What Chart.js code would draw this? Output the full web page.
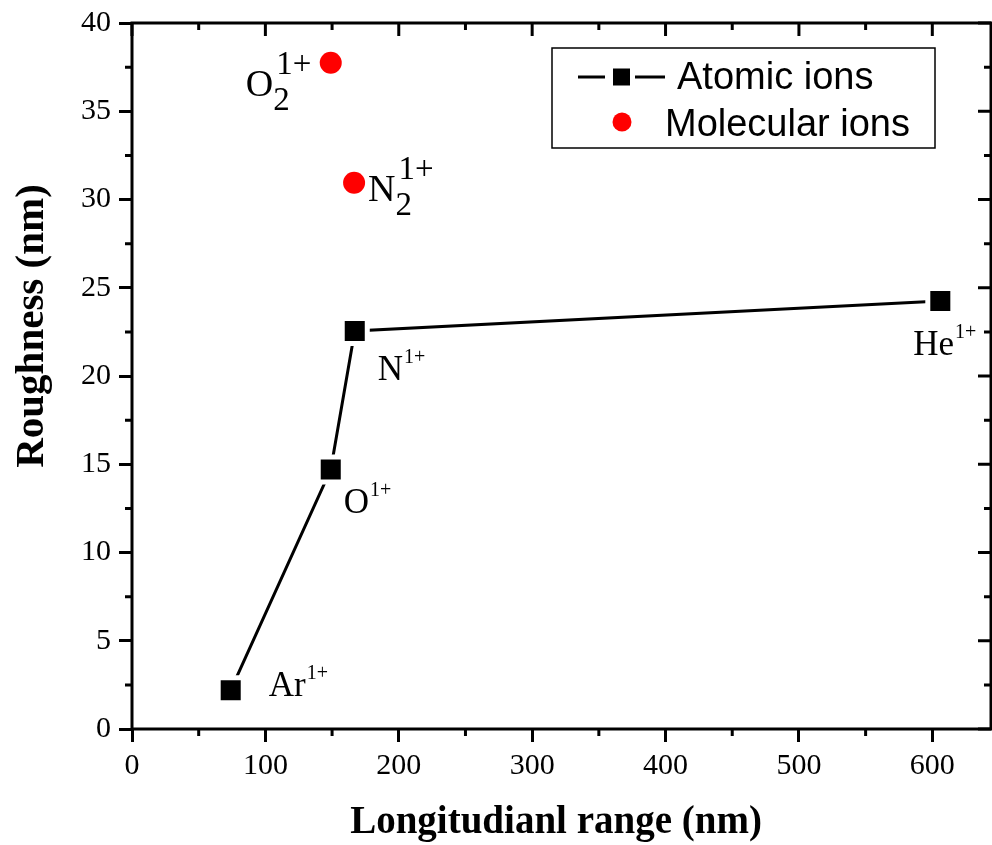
<!DOCTYPE html>
<html lang="en">
<head>
<meta charset="UTF-8" />
<title>Roughness vs longitudinal range</title>
<script src="https://cdn.jsdelivr.net/npm/chart.js"></script>
<style>
  html, body { margin: 0; padding: 0; background: #fff; overflow: hidden; }
  canvas { display: block; }
</style>
</head>
<body>
<canvas id="chart" width="992" height="845"></canvas>
<script>
  // values
  const atomicRange = [74, 149, 167, 606];
  const atomicRough = [2.2, 14.7, 22.55, 24.25];
  const atomicNames = ['Ar', 'O', 'N', 'He'];

  const molecularRange = [149, 166.5];
  const molecularRough = [37.75, 30.95];
  const molecularNames = ['O', 'N'];
  const molecularSub = ['2', '2'];

  const chargeLabel = '1+';
  const xTickValues = [0, 100, 200, 300, 400, 500, 600];
  const yTickValues = [0, 5, 10, 15, 20, 25, 30, 35, 40];

  // label placement (pixel offsets from the marker, baseline of the main text)
  const atomicLabelOffset = [[38, 6], [13, 43], [23, 49], [-27, 54]];
  const molecularLabelOffset = [[-85, 33], [14, 18]];

  const serif = '"Liberation Serif", "Times New Roman", serif';
  const sans = '"Liberation Sans", Arial, sans-serif';
  const noPadding = () => ({ left: 0, right: 0, top: 0, bottom: 0 });

  function drawIon(ctx, x, y, name, sub, sup, big, small, raise, drop) {
    ctx.font = big + 'px ' + serif;
    ctx.textAlign = 'left';
    ctx.textBaseline = 'alphabetic';
    ctx.fillStyle = '#000';
    ctx.fillText(name, x, y);
    const w = ctx.measureText(name).width;
    ctx.font = small + 'px ' + serif;
    if (sub) ctx.fillText(sub, x + w, y + drop);
    ctx.fillText(sup, x + w + (sub ? 3 : 1), y - raise);
  }

  const decorations = {
    id: 'decorations',
    beforeDatasetsDraw(chart) {
      const { ctx, chartArea: a } = chart;
      const xs = chart.scales.x, ys = chart.scales.y;
      ctx.save();
      ctx.strokeStyle = '#000';
      ctx.lineWidth = 3;
      ctx.lineCap = 'butt';
      ctx.strokeRect(a.left, a.top, a.right - a.left, a.bottom - a.top);

      // x ticks: minor outward at bottom, all inward at top
      for (let v = 0; v <= xs.max; v += 50) {
        const px = xs.getPixelForValue(v);
        const major = v % 100 === 0;
        ctx.beginPath();
        if (!major) { ctx.moveTo(px, a.bottom); ctx.lineTo(px, a.bottom + 7); }
        ctx.moveTo(px, a.top); ctx.lineTo(px, a.top + (major ? 13 : 7));
        ctx.stroke();
      }
      // y ticks: minor outward at left, all inward at right
      for (let v = 0; v <= ys.max; v += 2.5) {
        const py = ys.getPixelForValue(v);
        const major = v % 5 === 0;
        ctx.beginPath();
        if (!major) { ctx.moveTo(a.left, py); ctx.lineTo(a.left - 7, py); }
        ctx.moveTo(a.right, py); ctx.lineTo(a.right - (major ? 13 : 7), py);
        ctx.stroke();
      }

      // axis titles
      ctx.fillStyle = '#000';
      ctx.font = 'bold 39px ' + serif;
      ctx.textAlign = 'center';
      ctx.textBaseline = 'alphabetic';
      ctx.fillText('Longitudianl range (nm)', 556, 833);
      ctx.save();
      ctx.translate(43, 326);
      ctx.rotate(-Math.PI / 2);
      ctx.font = 'bold 41px ' + serif;
      ctx.fillText('Roughness (nm)', 0, 0);
      ctx.restore();
      ctx.restore();
    },
    afterDatasetsDraw(chart) {
      const { ctx } = chart;
      const xs = chart.scales.x, ys = chart.scales.y;
      ctx.save();
      atomicNames.forEach((n, i) => {
        const px = xs.getPixelForValue(atomicRange[i]);
        const py = ys.getPixelForValue(atomicRough[i]);
        const o = atomicLabelOffset[i];
        drawIon(ctx, px + o[0], py + o[1], n, '', chargeLabel, 35, 20, 17, 0);
      });
      molecularNames.forEach((n, i) => {
        const px = xs.getPixelForValue(molecularRange[i]);
        const py = ys.getPixelForValue(molecularRough[i]);
        const o = molecularLabelOffset[i];
        drawIon(ctx, px + o[0], py + o[1], n, molecularSub[i], chargeLabel, 38, 33, 22, 14);
      });

      // legend
      const lx = 552, ly = 48, lw = 383, lh = 100;
      ctx.fillStyle = '#fff';
      ctx.fillRect(lx, ly, lw, lh);
      ctx.strokeStyle = '#000';
      ctx.lineWidth = 1.5;
      ctx.strokeRect(lx, ly, lw, lh);
      ctx.lineWidth = 3;
      ctx.beginPath();
      ctx.moveTo(578, 77); ctx.lineTo(605, 77);
      ctx.moveTo(635, 77); ctx.lineTo(665, 77);
      ctx.stroke();
      ctx.fillStyle = '#000';
      ctx.fillRect(613, 68.5, 17, 17);
      ctx.fillStyle = '#ff0000';
      ctx.beginPath();
      ctx.arc(622, 122, 9.5, 0, Math.PI * 2);
      ctx.fill();
      ctx.fillStyle = '#000';
      ctx.font = '38px ' + sans;
      ctx.textAlign = 'left';
      ctx.textBaseline = 'alphabetic';
      ctx.fillText(chart.data.datasets[0].label, 677, 89);
      ctx.fillText(chart.data.datasets[1].label, 665, 136);
      ctx.restore();
    }
  };

  new Chart(document.getElementById('chart'), {
    type: 'line',
    data: {
      datasets: [
        {
          label: 'Atomic ions',
          data: atomicRange.map((x, i) => ({ x: x, y: atomicRough[i] })),
          borderColor: '#000',
          borderWidth: 3,
          tension: 0,
          pointStyle: 'rect',
          pointRadius: 17.7,
          pointBackgroundColor: '#000',
          pointBorderColor: '#fff',
          pointBorderWidth: 5
        },
        {
          label: 'Molecular ions',
          data: molecularRange.map((x, i) => ({ x: x, y: molecularRough[i] })),
          showLine: false,
          pointStyle: 'circle',
          pointRadius: 11,
          pointBackgroundColor: '#ff0000',
          pointBorderWidth: 0
        }
      ]
    },
    options: {
      responsive: false,
      animation: false,
      events: [],
      layout: { autoPadding: false, padding: { top: 23, right: 1, left: 0, bottom: 0 } },
      plugins: { legend: { display: false }, tooltip: { enabled: false } },
      scales: {
        x: {
          type: 'linear',
          position: 'bottom',
          min: 0,
          max: 644,
          afterBuildTicks: s => { s.ticks = xTickValues.map(v => ({ value: v })); },
          afterFit: s => { s.height = 116; s.paddingLeft = 0; s.paddingRight = 0; s.getPadding = noPadding; },
          ticks: { color: '#000', font: { family: serif, size: 30 }, padding: 6, maxRotation: 0 },
          grid: { drawOnChartArea: false, drawTicks: true, tickLength: 13, tickWidth: 3, tickColor: '#000' },
          border: { display: false }
        },
        y: {
          type: 'linear',
          min: 0,
          max: 40,
          afterBuildTicks: s => { s.ticks = yTickValues.map(v => ({ value: v })); },
          afterFit: s => { s.width = 132; s.paddingTop = 0; s.paddingBottom = 0; s.getPadding = noPadding; },
          ticks: { color: '#000', font: { family: serif, size: 30 }, padding: 8 },
          grid: { drawOnChartArea: false, drawTicks: true, tickLength: 13, tickWidth: 3, tickColor: '#000' },
          border: { display: false }
        }
      }
    },
    plugins: [decorations]
  });
</script>
</body>
</html>
